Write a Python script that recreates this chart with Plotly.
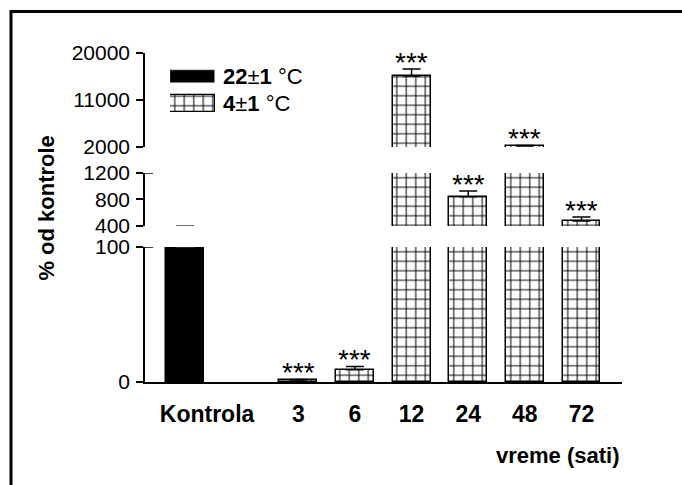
import plotly.graph_objects as go

# ---- data ----
categories = ['Kontrola', '3', '6', '12', '24', '48', '72']
ctrl_name = '<b>22</b>±<b>1</b> °C'
cold_name = '<b>4</b>±<b>1</b> °C'
ctrl_value = [100]
ctrl_error = [305]
cold_values = [1.5, 9, 15600, 840, 2200, 475]
cold_errors = [0.4, 2.5, 1350, 90, 100, 60]
significance = ['***', '***', '***', '***', '***', '***']

y_bottom_ticks = [0, 100]
y_middle_ticks = [400, 800, 1200]
y_top_ticks = [2000, 11000, 20000]

# ---- layout helpers ----
ctrl_x = [0]
cold_x = [2, 3, 4, 5, 6, 7]
label_x = [0.39] + cold_x
FONT = 'Arial, Liberation Sans, sans-serif'
BAR_W = 0.67

pattern = dict(shape='+', size=9.5, solidity=0.2, fgcolor='black',
               bgcolor='white', fgopacity=1)

fig = go.Figure()

segments = [('y', [0, 100]), ('y2', [400, 1200]), ('y3', [2000, 20000])]
for yref, _ in segments:
    fig.add_trace(go.Bar(
        x=ctrl_x, y=ctrl_value, width=BAR_W, xaxis='x', yaxis=yref,
        marker=dict(color='black', line=dict(color='black', width=1.5)),
        error_y=dict(type='data', array=ctrl_error, arrayminus=[0],
                     symmetric=False, color='#555', thickness=1, width=9),
        showlegend=False, hoverinfo='skip'))
    fig.add_trace(go.Bar(
        x=cold_x, y=cold_values, width=BAR_W, xaxis='x', yaxis=yref,
        marker=dict(color='white', line=dict(color='black', width=1.5),
                    pattern=pattern),
        error_y=dict(type='data', array=cold_errors,
                     arrayminus=[0] * len(cold_errors), symmetric=False,
                     color='black', thickness=1.5, width=9),
        showlegend=False, hoverinfo='skip'))

# legend swatches on a small auxiliary axis
fig.add_trace(go.Bar(x=[1], y=[0], orientation='h', width=0.5,
                     xaxis='x4', yaxis='y4', marker=dict(color='black'),
                     showlegend=False, hoverinfo='skip'))
fig.add_trace(go.Bar(x=[1], y=[1], orientation='h', width=0.63,
                     xaxis='x4', yaxis='y4',
                     marker=dict(color='white', line=dict(color='black', width=1.2),
                                 pattern=pattern),
                     showlegend=False, hoverinfo='skip'))

annotations = []
for name, yy in [(ctrl_name, 0), (cold_name, 1)]:
    annotations.append(dict(x=1, y=yy, xref='x4', yref='y4', text=name,
                            showarrow=False, xanchor='left', yanchor='middle',
                            xshift=6, font=dict(family=FONT, size=22, color='black')))

# significance stars
for xv, v, e, s in zip(cold_x, cold_values, cold_errors, significance):
    top = v + e
    yref = 'y' if top <= 100 else ('y2' if top <= 1200 else 'y3')
    annotations.append(dict(x=xv, y=top, xref='x', yref=yref, text=s,
                            showarrow=False, yanchor='bottom', yshift=-11,
                            font=dict(family=FONT, size=28, color='black')))

annotations.append(dict(x=-0.2055, y=0.53, xref='paper', yref='paper',
                        text='<b>% od kontrole</b>', textangle=-90,
                        showarrow=False, xanchor='center', yanchor='middle',
                        font=dict(family=FONT, size=22, color='black')))
annotations.append(dict(x=1.0, y=-0.222, xref='paper', yref='paper',
                        text='<b>vreme (sati)</b>', showarrow=False,
                        xanchor='right', yanchor='middle',
                        font=dict(family=FONT, size=22, color='black')))

yaxis_common = dict(showline=True, linecolor='black', linewidth=1.5,
                    ticks='outside', ticklen=7, tickwidth=1.5, tickcolor='black',
                    showgrid=False, zeroline=False, anchor='x',
                    tickfont=dict(family=FONT, size=21, color='black'),
                    ticklabelstandoff=2, fixedrange=True)

shapes = [
    # frame
    dict(type='rect', xref='paper', yref='paper', x0=-0.2809, x1=1.2,
         y0=-0.4, y1=1.1261, line=dict(color='black', width=3)),
    # segment end caps
    dict(type='line', xref='paper', yref='y2', x0=0, x1=8 / 477, y0=1200, y1=1200,
         line=dict(color='black', width=1.5)),
    dict(type='line', xref='paper', yref='y', x0=0, x1=8 / 477, y0=100, y1=100,
         line=dict(color='black', width=1.5)),
]

fig.update_layout(
    width=682, height=485,
    margin=dict(l=145, r=60, t=53, b=103),
    paper_bgcolor='white', plot_bgcolor='white',
    barmode='overlay', bargap=0,
    showlegend=False,
    xaxis=dict(range=[-0.706, 7.715], anchor='y', showline=True,
               linecolor='black', linewidth=1.5, ticks='', showgrid=False,
               zeroline=False, tickvals=label_x, ticktext=categories,
               tickfont=dict(family=FONT, size=23, color='black', weight='bold'),
               ticklabelstandoff=11, fixedrange=True),
    yaxis=dict(domain=[0, 0.4103], range=[0, 100], tickvals=y_bottom_ticks,
               ticktext=[str(t) for t in y_bottom_ticks], **yaxis_common),
    yaxis2=dict(domain=[0.4742, 0.6353], range=[400, 1200],
                tickvals=y_middle_ticks,
                ticktext=[str(t) for t in y_middle_ticks], **yaxis_common),
    yaxis3=dict(domain=[0.7143, 1.0], range=[2000, 20000],
                tickvals=y_top_ticks,
                ticktext=[str(t) for t in y_top_ticks], **yaxis_common),
    xaxis4=dict(domain=[0.0524, 0.1468], range=[0, 1], anchor='y4',
                visible=False, fixedrange=True),
    yaxis4=dict(domain=[0.8055, 0.9696], range=[1.5, -0.5], anchor='x4',
                visible=False, fixedrange=True),
    annotations=annotations,
    shapes=shapes,
)

fig.write_html('out.html')
